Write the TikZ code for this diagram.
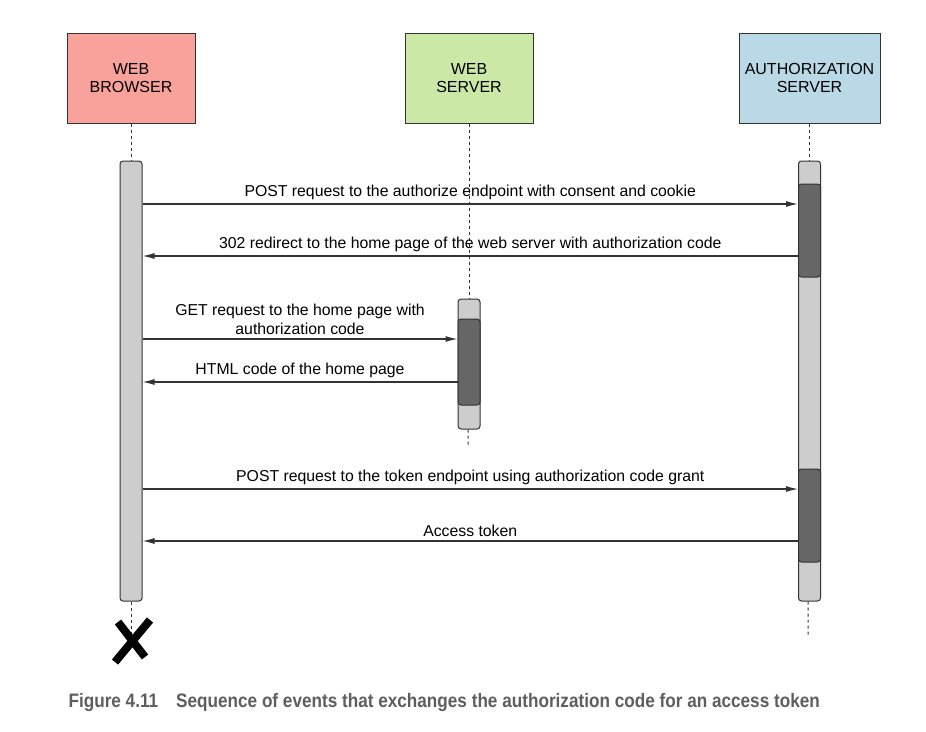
\documentclass[tikz,border=0pt]{standalone}
\usepackage{fontspec}
\setmainfont{Liberation Sans}
\newfontfamily\capfont[FakeStretch=0.88]{Liberation Sans}
\usetikzlibrary{arrows.meta,positioning}

\definecolor{browserred}{HTML}{F8A29B}
\definecolor{servergreen}{HTML}{CBE8A6}
\definecolor{authblue}{HTML}{B9D9E6}
\definecolor{barlight}{HTML}{CDCDCD}
\definecolor{bardark}{HTML}{666666}
\definecolor{edgegray}{HTML}{333333}
\definecolor{captiongray}{HTML}{5E5E5E}

\begin{document}
\begin{tikzpicture}[x=1pt, y=-1pt,
  actor/.style={rectangle, draw=edgegray, line width=1pt, minimum width=128pt, minimum height=90pt, align=center, font=\fontsize{16}{18}\selectfont},
  life/.style={draw=edgegray, dashed, line width=1pt},
  bar/.style={rectangle, draw=edgegray, fill=barlight, line width=1pt, rounded corners=3pt, minimum width=22pt, inner sep=0pt},
  busy/.style={bar, fill=bardark},
  msg/.style={draw=edgegray, line width=1.1pt, -{Latex[length=12pt,width=6pt]}},
  lbl/.style={font=\fontsize{15.8}{19}\selectfont, align=center, text=black, inner sep=3.5pt}]
  \useasboundingbox (0,0) rectangle (926,731);

  % participants
  \node [actor, fill=browserred] (browser) at (131,78) {WEB\\BROWSER};
  \node [actor, fill=servergreen, right=209pt of browser] (server) {WEB\\SERVER};
  \node [actor, fill=authblue, minimum width=141pt, right=205pt of server] (auth) {AUTHORIZATION\\SERVER};

  % activation bars
  \node [bar, minimum height=440pt, below=37pt of browser] (browserbar) {};
  \node [bar, minimum height=130pt, below=175pt of server] (serverbar) {};
  \node [busy, minimum height=86pt, below=20pt of serverbar.north] (serverbusy) {};
  \node [bar, minimum height=440pt, below=37pt of auth] (authbar) {};
  \node [busy, minimum height=93pt, below=23pt of authbar.north] (authbusy) {};
  \node [busy, minimum height=93pt, below=308pt of authbar.north] (authtoken) {};

  % ends of the lifelines
  \coordinate (kill) at (131,641);
  \coordinate (serverend) at (468,446);
  \coordinate (authend) at (808,637);

  \path [life] (browser) -- (browserbar);
  \path [life] (browserbar) -- (kill);
  \path [life] (server) -- (serverbar);
  \path [life] (serverbar) -- (serverend);
  \path [life] (auth) -- (authbar);
  \path [life] (authbar) -- (authend);

  % message rows
  \coordinate (m1) at (0,204);
  \coordinate (m2) at (0,256);
  \coordinate (m3) at (0,339);
  \coordinate (m4) at (0,382);
  \coordinate (m5) at (0,489);
  \coordinate (m6) at (0,541);

  \path [msg] (browserbar.east |- m1) -- node [lbl, above] {POST request to the authorize endpoint with consent and cookie} (authbar.west |- m1);
  \path [msg] (authbar.west |- m2) -- node [lbl, above] {302 redirect to the home page of the web server with authorization code} (browserbar.east |- m2);
  \path [msg] (browserbar.east |- m3) -- node [lbl, above] {GET request to the home page with\\authorization code} (serverbar.west |- m3);
  \path [msg] (serverbar.west |- m4) -- node [lbl, above] {HTML code of the home page} (browserbar.east |- m4);
  \path [msg] (browserbar.east |- m5) -- node [lbl, above] {POST request to the token endpoint using authorization code grant} (authbar.west |- m5);
  \path [msg] (authbar.west |- m6) -- node [lbl, above] {Access token} (browserbar.east |- m6);

  % end of the browser
  \draw [line width=8pt] ([shift={(-13,-19)}]kill) -- ([shift={(14,16)}]kill);
  \draw [line width=8pt] ([shift={(19,-21)}]kill) -- ([shift={(-16,21)}]kill);

  \node [anchor=base west, text=captiongray, font=\capfont\bfseries\fontsize{19.5}{22}\selectfont] (caption) at (65,707)
    {Figure 4.11\hspace{18pt}Sequence of events that exchanges the authorization code for an access token};
\end{tikzpicture}
\end{document}
